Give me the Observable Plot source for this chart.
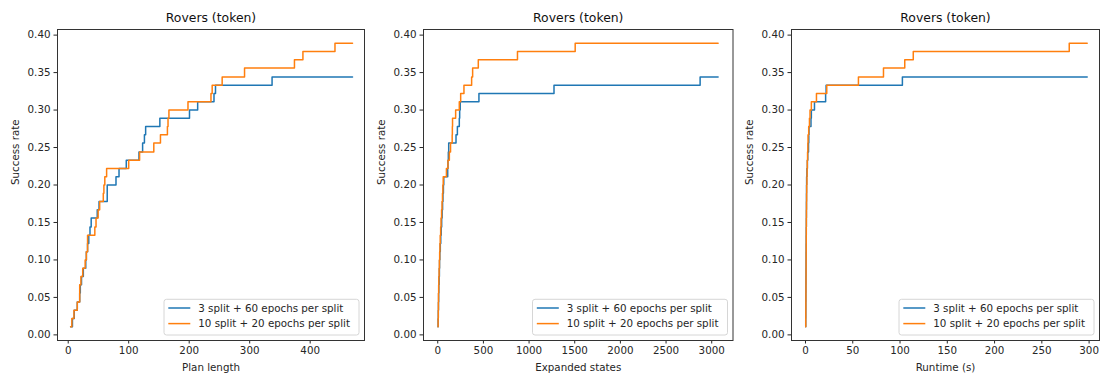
<!DOCTYPE html>
<html>
<head>
<meta charset="utf-8">
<script src="https://cdn.jsdelivr.net/npm/d3@7"></script>
<script src="https://cdn.jsdelivr.net/npm/@observablehq/plot@0.6"></script>
<style>
  html, body { margin: 0; padding: 0; background: white; }
  #chart { position: relative; width: 1102px; height: 376px; background: white; }
  #chart svg { position: absolute; top: 0; }
</style>
</head>
<body>
<div id="chart"></div>
<script>
const title = "Rovers (token)";
const yLabel = "Success rate";
const seriesNames = ["3 split + 60 epochs per split", "10 split + 20 epochs per split"];
const colors = ["#1f77b4", "#ff7f0e"];
const yTicks = [0, 0.05, 0.10, 0.15, 0.20, 0.25, 0.30, 0.35, 0.40];

// Panel 1: Plan length
const planXLabel = "Plan length";
const planTicks = [0, 100, 200, 300, 400];
const planBlueX = [4, 7, 10, 15, 19, 20, 22, 25, 29, 30, 32, 34, 36, 38, 48, 51, 64.5, 79, 84, 96, 117, 123, 126, 128, 151.5, 200.5, 214, 241, 243.5, 337, 470];
const planBlueY = [0.011, 0.022, 0.033, 0.044, 0.056, 0.067, 0.078, 0.089, 0.100, 0.111, 0.122, 0.133, 0.144, 0.156, 0.167, 0.178, 0.200, 0.211, 0.222, 0.233, 0.244, 0.256, 0.267, 0.278, 0.289, 0.300, 0.311, 0.322, 0.333, 0.344, 0.344];
const planOrangeX = [4, 6, 9.5, 15, 19, 21, 24, 28, 30, 32, 44, 46, 49.5, 52, 58, 59, 60.5, 63.5, 100, 118, 141.5, 152.5, 164, 165, 166.5, 198, 236, 238, 254.5, 291.5, 374, 388, 441, 470];
const planOrangeY = [0.011, 0.022, 0.033, 0.044, 0.067, 0.078, 0.089, 0.100, 0.111, 0.133, 0.144, 0.156, 0.167, 0.178, 0.189, 0.200, 0.211, 0.222, 0.233, 0.244, 0.256, 0.267, 0.278, 0.289, 0.300, 0.311, 0.322, 0.333, 0.344, 0.356, 0.367, 0.378, 0.389, 0.389];

// Panel 2: Expanded states
const expXLabel = "Expanded states";
const expTicks = [0, 500, 1000, 1500, 2000, 2500, 3000];
const expBlueX = [2, 4, 6, 8, 10, 12, 15, 18, 20, 23, 28, 33, 38, 43, 48, 53, 57, 62, 66, 109, 112, 116, 120, 200, 215, 236, 240, 246, 451, 1273, 2873, 3070];
const expBlueY = [0.011, 0.022, 0.033, 0.044, 0.056, 0.067, 0.078, 0.089, 0.100, 0.111, 0.122, 0.133, 0.144, 0.156, 0.167, 0.178, 0.189, 0.200, 0.211, 0.222, 0.233, 0.244, 0.256, 0.267, 0.278, 0.289, 0.300, 0.311, 0.322, 0.333, 0.344, 0.344];
const expOrangeX = [2, 4, 6, 7, 8, 10, 12, 15, 18, 21, 24, 27, 32, 36, 42, 47, 52, 56, 60, 95, 112, 127, 140, 158, 160, 162, 196, 236, 251, 287, 371, 382, 444, 873, 1505, 3070];
const expOrangeY = [0.011, 0.022, 0.033, 0.044, 0.056, 0.067, 0.078, 0.089, 0.100, 0.111, 0.122, 0.133, 0.144, 0.156, 0.167, 0.178, 0.189, 0.200, 0.211, 0.222, 0.233, 0.244, 0.256, 0.267, 0.278, 0.289, 0.300, 0.311, 0.322, 0.333, 0.344, 0.356, 0.367, 0.378, 0.389, 0.389];

// Panel 3: Runtime
const runXLabel = "Runtime (s)";
const runTicks = [0, 50, 100, 150, 200, 250, 300];
const runBlueX = [0.2, 0.25, 0.3, 0.35, 0.4, 0.45, 0.5, 0.55, 0.6, 0.65, 0.7, 0.75, 0.8, 0.9, 0.95, 1.0, 1.05, 1.1, 1.2, 1.5, 2.0, 2.4, 3.2, 3.5, 3.7, 5.8, 6.2, 9.5, 21.3, 21.8, 102.5, 298];
const runBlueY = [0.011, 0.022, 0.033, 0.044, 0.056, 0.067, 0.078, 0.089, 0.100, 0.111, 0.122, 0.133, 0.144, 0.156, 0.167, 0.178, 0.189, 0.200, 0.211, 0.222, 0.233, 0.244, 0.256, 0.267, 0.278, 0.289, 0.300, 0.311, 0.322, 0.333, 0.344, 0.344];
const runOrangeX = [0.2, 0.3, 0.35, 0.4, 0.45, 0.5, 0.55, 0.6, 0.65, 0.7, 0.75, 0.8, 0.85, 0.9, 1.0, 1.1, 1.2, 1.3, 1.5, 1.7, 1.9, 2.2, 2.5, 2.7, 3.4, 4.2, 4.8, 6.2, 11.6, 22.5, 56, 82.5, 105, 114, 279, 298];
const runOrangeY = [0.011, 0.022, 0.033, 0.044, 0.056, 0.067, 0.078, 0.089, 0.100, 0.111, 0.122, 0.133, 0.144, 0.156, 0.167, 0.178, 0.189, 0.200, 0.211, 0.222, 0.233, 0.244, 0.256, 0.267, 0.278, 0.289, 0.300, 0.311, 0.322, 0.333, 0.344, 0.356, 0.367, 0.378, 0.389, 0.389];

const toRows = (xs, ys) => xs.map((x, i) => ({x, y: ys[i]}));

const panels = [
  {left: 0, width: 370, ml: 57, mr: 6, xdomain: [-17.7, 489.8], ticks: planTicks, xlabel: planXLabel,
   blue: toRows(planBlueX, planBlueY), orange: toRows(planOrangeX, planOrangeY)},
  {left: 370, width: 368, ml: 53, mr: 5.5, xdomain: [-156, 3233], ticks: expTicks, xlabel: expXLabel,
   blue: toRows(expBlueX, expBlueY), orange: toRows(expOrangeX, expOrangeY)},
  {left: 738, width: 364, ml: 53, mr: 3, xdomain: [-14.8, 311], ticks: runTicks, xlabel: runXLabel,
   blue: toRows(runBlueX, runBlueY), orange: toRows(runOrangeX, runOrangeY)}
];

const H = 376, MT = 29, MB = 36;
const chart = document.getElementById("chart");

for (const p of panels) {
  const svg = Plot.plot({
    width: p.width, height: H,
    marginLeft: p.ml, marginRight: p.mr, marginTop: MT, marginBottom: MB,
    style: {fontFamily: "DejaVu Sans", fontSize: "10.3px", color: "#262626", background: "white", overflow: "visible"},
    x: {domain: p.xdomain},
    y: {domain: [-0.0075, 0.4075]},
    marks: [
      Plot.axisX({ticks: p.ticks, tickSize: 3.5, tickPadding: 3, tickFormat: d3.format("d"), label: null, fontSize: 10.3}),
      Plot.axisY({ticks: yTicks, tickSize: 3.5, tickPadding: 3.5, tickFormat: d3.format(".2f"), label: null, fontSize: 10.3}),
      Plot.line(p.blue, {x: "x", y: "y", curve: "step-after", stroke: colors[0], strokeWidth: 1.5}),
      Plot.line(p.orange, {x: "x", y: "y", curve: "step-after", stroke: colors[1], strokeWidth: 1.5}),
      Plot.frame({stroke: "#333", strokeWidth: 1}),
      Plot.text([title], {text: d => d, frameAnchor: "top", dy: -11, lineAnchor: "middle", fontSize: 12.4, fill: "#111"}),
      Plot.text([p.xlabel], {text: d => d, frameAnchor: "bottom", dy: 27, lineAnchor: "middle", fontSize: 10.3, fill: "#262626"}),
      Plot.text([yLabel], {text: d => d, frameAnchor: "left", dx: -42, rotate: -90, lineAnchor: "middle", fontSize: 10.3, fill: "#262626"})
    ]
  });
  svg.style.left = p.left + "px";

  // Legend (lower right, inside the frame)
  const frameRight = p.width - p.mr;
  const frameBottom = H - MB;
  const lw = 195, lh = 35.7;
  const lx = frameRight - 5 - lw, ly = frameBottom - 5 - lh;
  const g = d3.select(svg).append("g").attr("font-family", "DejaVu Sans").attr("font-size", "10.3px").attr("text-anchor", "start");
  g.append("rect").attr("x", lx).attr("y", ly).attr("width", lw).attr("height", lh)
    .attr("rx", 2.5).attr("fill", "white").attr("fill-opacity", 0.8).attr("stroke", "#cccccc").attr("stroke-width", 0.8);
  seriesNames.forEach((name, i) => {
    const yy = ly + 8.7 + i * 15.6;
    g.append("line").attr("x1", lx + 4.3).attr("x2", lx + 26.3).attr("y1", yy).attr("y2", yy)
      .attr("stroke", colors[i]).attr("stroke-width", 1.5);
    g.append("text").attr("x", lx + 34.3).attr("y", yy).attr("dy", "0.35em").attr("text-anchor", "start").attr("fill", "#262626").text(name);
  });

  chart.appendChild(svg);
}
</script>
</body>
</html>
